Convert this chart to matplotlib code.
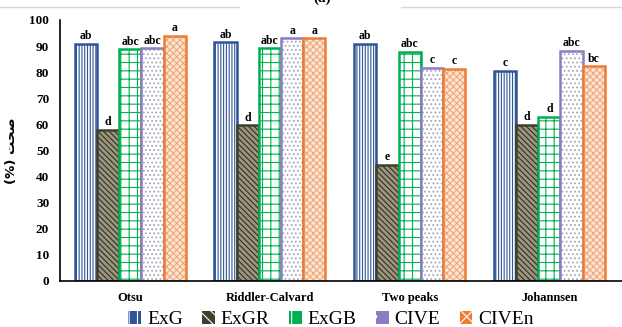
import matplotlib.pyplot as plt
import numpy as np
from matplotlib.lines import Line2D
from matplotlib.patches import Patch

plt.rcParams['hatch.linewidth'] = 0.8

methods = ['Otsu', 'Riddler-Calvard', 'Two peaks', 'Johannsen']
indices = ['ExG', 'ExGR', 'ExGB', 'CIVE', 'CIVEn']

exg = [90.9, 91.4, 90.9, 80.5]
exgr = [58.0, 59.6, 44.4, 59.8]
exgb = [88.8, 89.1, 87.9, 62.8]
cive = [89.1, 93.0, 81.7, 88.1]
civen = [93.9, 93.0, 81.2, 82.3]

letters_exg = ['ab', 'ab', 'ab', 'c']
letters_exgr = ['d', 'd', 'e', 'd']
letters_exgb = ['abc', 'abc', 'abc', 'd']
letters_cive = ['abc', 'a', 'c', 'abc']
letters_civen = ['a', 'a', 'c', 'bc']

series = [exg, exgr, exgb, cive, civen]
letters = [letters_exg, letters_exgr, letters_exgb, letters_cive, letters_civen]
edge = ['#2F5597', '#3F3F2F', '#00B050', '#8E7CC3', '#ED7D31']
face = ['white', '#9C9680', 'white', 'white', '#FBE5D6']
hcol = ['#2F5597', '#2F2F22', '#00B050', '#A6A6B8', '#F0A878']
hatch = ['||||||', '\\\\\\\\\\\\', '++', '....', 'xxxxx']
leg_hatch = ['||', '\\\\\\', '+', '.', 'xx']

fig = plt.figure(figsize=(6.22, 3.27), dpi=100)
ax = fig.add_axes([0.097, 0.141, 0.903, 0.798])

x = np.arange(len(methods))
w = 0.159
handles = []
for i, vals in enumerate(series):
    pos = x + (i - 2) * w
    # pattern fill, then outline on top
    ax.bar(pos, vals, width=w, color=face[i], edgecolor=hcol[i], hatch=hatch[i], linewidth=0)
    ax.bar(pos, vals, width=w, fill=False, edgecolor=edge[i], linewidth=1.8)
    handles.append(Patch(facecolor=edge[i], edgecolor='white', hatch=leg_hatch[i],
                         linewidth=0, label=indices[i]))
    for px, v, t in zip(pos, vals, letters[i]):
        ax.text(px, v + 0.6, t, ha='center', va='bottom', fontsize=8.5,
                fontweight='bold', family='Liberation Serif')

ax.set_xlim(-0.5, 3.52)
ax.set_ylim(0, 100)
ax.set_yticks(range(0, 101, 10))
ax.set_xticks(x)
ax.set_xticklabels(methods, fontsize=9, fontweight='bold', family='Liberation Serif')
for lab in ax.get_yticklabels():
    lab.set_fontsize(9.5)
    lab.set_fontweight('bold')
    lab.set_family('Liberation Serif')
ax.tick_params(length=0, pad=8)
ax.tick_params(axis='x', pad=8)
for s in ['top', 'right']:
    ax.spines[s].set_visible(False)
ax.spines['left'].set_linewidth(1.2)
ax.spines['bottom'].set_linewidth(1.2)

# y label: Persian word in presentation forms (visual order)
ax.set_ylabel('(%) \ufe96\ufea4\ufebb', fontsize=9.5, fontweight='bold', labelpad=8,
              family=['DejaVu Sans'])

ax.legend(handles=handles, loc='center', bbox_to_anchor=(0.482, -0.148), ncol=5,
          frameon=False, prop={'family': 'Liberation Serif', 'size': 14},
          handlelength=0.65, handleheight=0.65, handletextpad=0.3, columnspacing=1.0,
          borderpad=0)

fig.text(0.518, 1.005, '(a)', ha='center', va='center', fontsize=11, fontweight='bold',
         family='Liberation Serif')
fig.add_artist(Line2D([0.0, 0.385], [0.978, 0.978], color='#D9D9D9', lw=1))
fig.add_artist(Line2D([0.645, 1.0], [0.978, 0.978], color='#D9D9D9', lw=1))

fig.savefig('out.png', dpi=100)
